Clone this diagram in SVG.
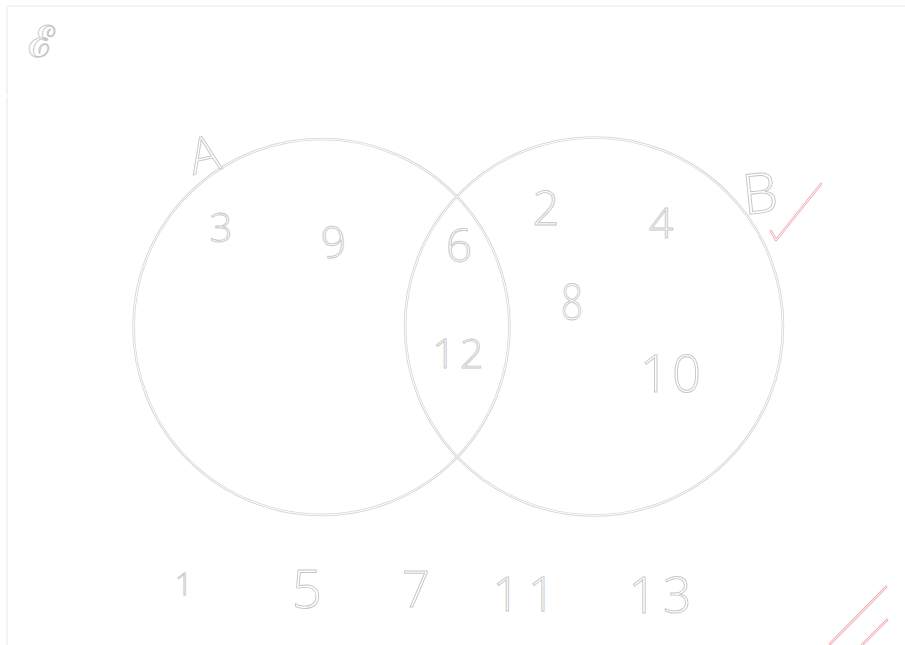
<svg xmlns="http://www.w3.org/2000/svg" width="905" height="645" viewBox="0 0 905 645">
<style>
.frame{stroke:#ececec;stroke-width:1.2;fill:none}
.ringOuter{fill:none;stroke:#d6d6d6;stroke-width:2.6}
.ringInner{fill:none;stroke:#ffffff;stroke-width:1}
.ink{font-family:"Open Sans","Liberation Sans","DejaVu Sans",sans-serif;font-weight:300;fill:#ffffff;stroke:#c6c6c6;stroke-width:0.9;text-anchor:middle}
.redOuter{fill:none;stroke:#f2b2bb;stroke-width:2.6;stroke-linecap:round;stroke-linejoin:round}
.redInner{fill:none;stroke:#ffffff;stroke-width:0.9;stroke-linecap:round;stroke-linejoin:round}
</style>
<rect width="905" height="645" fill="#ffffff"/>
<g id="frame">
<line class="frame" x1="7" y1="6" x2="905" y2="6"/>
<line class="frame" x1="7" y1="6" x2="7" y2="95"/>
<line class="frame" x1="7" y1="97" x2="7" y2="645"/>
</g>
<g id="universal-label">
<text class="ink" x="41" y="57" font-size="44" style="font-family:'DejaVu Serif',serif;font-weight:normal">ℰ</text>
</g>
<g id="set-A">
<circle class="ringOuter" cx="321.5" cy="327" r="188"/>
<circle class="ringInner" cx="321.5" cy="327" r="188"/>
<text class="ink" font-size="50" transform="translate(208 172) rotate(-12)">A</text>
</g>
<g id="set-B">
<circle class="ringOuter" cx="594" cy="326.5" r="189"/>
<circle class="ringInner" cx="594" cy="326.5" r="189"/>
<text class="ink" font-size="56" transform="translate(762 213) rotate(-6)">B</text>
</g>
<g id="check-mark">
<path class="redOuter" d="M771,231 L776,240 L821,184"/>
<path class="redInner" d="M771,231 L776,240 L821,184"/>
</g>
<g id="only-A">
<text class="ink" font-size="40" x="221" y="242">3</text>
<text class="ink" font-size="43" transform="translate(336 257) rotate(-8)">9</text>
</g>
<g id="A-and-B">
<text class="ink" font-size="46" x="459" y="262">6</text>
<text class="ink" font-size="41" x="460" y="368" letter-spacing="4">12</text>
</g>
<g id="only-B">
<text class="ink" font-size="47" x="546" y="225">2</text>
<text class="ink" font-size="43" x="661" y="238">4</text>
<text class="ink" font-size="49" transform="translate(572 320) scale(0.8 1)">8</text>
<text class="ink" font-size="51" x="672" y="392" letter-spacing="3">10</text>
</g>
<g id="outside">
<text class="ink" font-size="32" x="184" y="595">1</text>
<text class="ink" font-size="53" x="307" y="608">5</text>
<text class="ink" font-size="49" x="416" y="607">7</text>
<text class="ink" font-size="48" x="528" y="611" letter-spacing="8">11</text>
<text class="ink" font-size="50" x="663" y="613" letter-spacing="6">13</text>
</g>
<g id="red-marks">
<path class="redOuter" d="M830,644 L886,587"/>
<path class="redInner" d="M830,644 L886,587"/>
<path class="redOuter" d="M862,645 L887,620"/>
<path class="redInner" d="M862,645 L887,620"/>
</g>
</svg>
